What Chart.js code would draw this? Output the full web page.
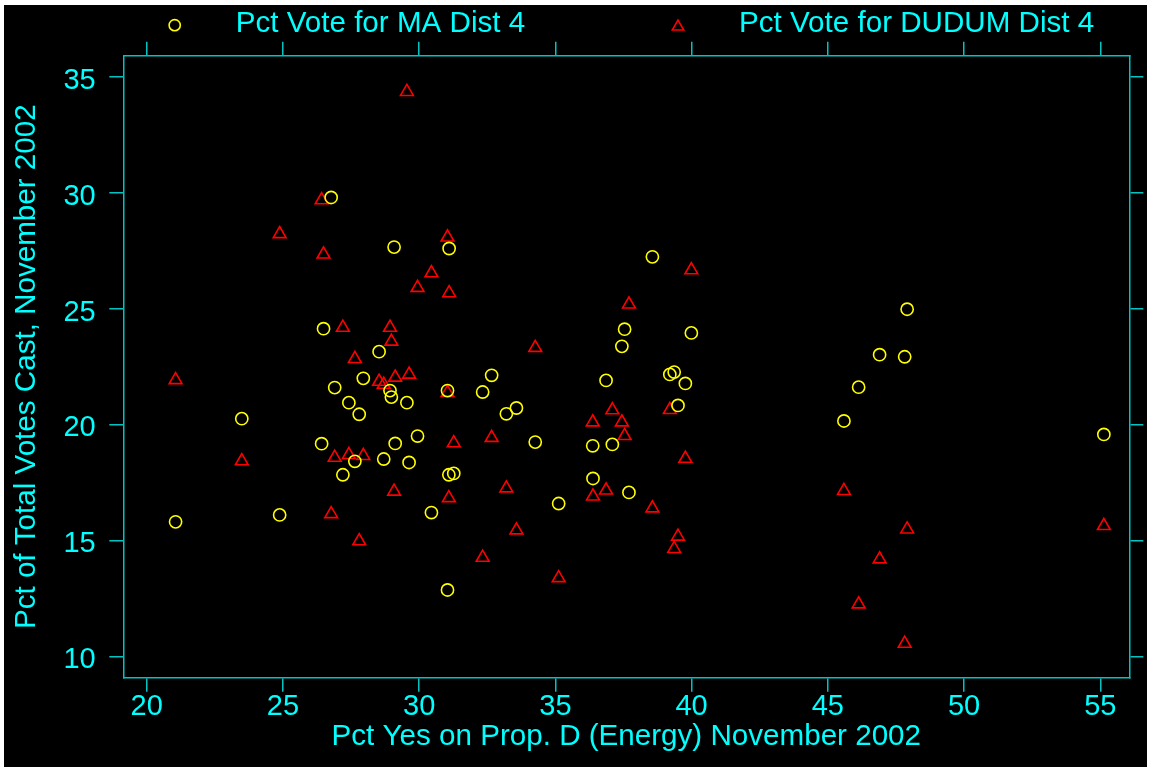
<!DOCTYPE html>
<html>
<head>
<meta charset="utf-8">
<title>Prop. D vote vs. District 4 candidate share, November 2002</title>
<script src="https://cdn.jsdelivr.net/npm/chart.js@4/dist/chart.umd.min.js"></script>
<style>
  html, body { margin: 0; padding: 0; background: #ffffff; }
  #frame { position: absolute; left: 4px; top: 5px; width: 1143px; height: 762px; background: #000000; }
  canvas { display: block; }
</style>
</head>
<body>
<div id="frame"><canvas id="chart" width="1143" height="762"></canvas></div>
<script>
// Precinct results, District 4: Prop. D yes share and each candidate's share of votes cast
const propDYes = [
  21.06, 23.49, 24.88, 26.42, 26.49, 26.77, 26.90, 27.20, 27.42, 27.64,
  27.80, 27.95, 28.53, 28.70, 28.93, 28.98, 29.08, 29.12, 29.55, 29.63,
  29.94, 30.45, 31.04, 31.04, 31.09, 31.10, 31.27, 32.33, 32.66, 33.20,
  33.57, 34.26, 35.12, 36.37, 36.38, 36.86, 37.09, 37.44, 37.54, 37.70,
  38.56, 39.20, 39.36, 39.50, 39.77, 39.99, 45.59, 46.13, 46.90, 47.82,
  47.91, 55.13
];
const maVote = [
  15.80, 20.25, 16.10, 19.17, 24.13, 29.79, 21.59, 17.83, 20.94, 18.41,
  20.44, 21.99, 23.14, 18.51, 21.46, 21.18, 27.65, 19.18, 20.94, 18.36,
  19.50, 16.20, 21.46, 12.86, 17.83, 27.59, 17.89, 21.40, 22.12, 20.46,
  20.71, 19.24, 16.59, 19.08, 17.67, 21.90, 19.14, 23.37, 24.11, 17.07,
  27.23, 22.16, 22.26, 20.82, 21.77, 23.95, 20.15, 21.61, 23.01, 22.92,
  24.97, 19.57
];
const dudumVote = [
  21.92, 18.42, 28.22, 29.68, 27.34, 16.14, 18.57, 24.18, 18.69, 22.83,
  14.97, 18.65, 21.85, 21.72, 24.18, 23.58, 17.11, 22.03, 34.35, 22.16,
  25.90, 26.53, 28.07, 21.37, 16.83, 25.67, 19.20, 14.26, 19.43, 17.25,
  15.44, 23.31, 13.38, 20.10, 16.90, 17.16, 20.62, 20.10, 19.51, 25.18,
  16.39, 20.63, 14.64, 15.17, 18.53, 26.66, 17.14, 12.25, 14.19, 10.55,
  15.48, 15.63
];
const xTicks = [20, 25, 30, 35, 40, 45, 50, 55];
const yTicks = [10, 15, 20, 25, 30, 35];
const seriesLabels = ['Pct Vote for MA Dist 4', 'Pct Vote for DUDUM Dist 4'];
const xTitle = 'Pct Yes on Prop. D (Energy) November 2002';
const yTitle = 'Pct of Total Votes Cast, November 2002';

const AXIS = '#00c4c4';
const TEXT = '#00ffff';
const FONT = "'Liberation Sans', Arial, Helvetica, sans-serif";
const FONT_SIZE = 29;
const TITLE_SIZE = 29.6;

const X_RANGE = { min: 19.141, max: 56.064 };
const Y_RANGE = { min: 9.077, max: 35.906 };

function frameAxis(extra) {
  return Object.assign({
    type: 'linear',
    grid: { drawOnChartArea: false, color: AXIS, tickLength: 14, lineWidth: 1.5 },
    border: { display: true, color: AXIS, width: 1.5 }
  }, extra);
}

// Legend drawn as a single row above the plot frame
const headerLegend = {
  id: 'headerLegend',
  afterDraw(chart) {
    const { ctx, chartArea } = chart;
    const rowY = chartArea.top - 30.5;
    chart.data.datasets.forEach((ds, i) => {
      const mx = chartArea.left + 51.4 + i * 503.3;
      ctx.save();
      ctx.strokeStyle = ds.borderColor;
      ctx.fillStyle = 'rgba(0,0,0,0)';
      ctx.lineWidth = ds.pointBorderWidth;
      Chart.helpers.drawPoint(ctx, {
        pointStyle: ds.pointStyle,
        radius: ds.pointStyle === 'triangle' ? 6.6 : 5.6,
        borderWidth: ds.pointBorderWidth,
        rotation: 0
      }, mx, ds.pointStyle === 'triangle' ? rowY + 1.5 : rowY);
      ctx.fillStyle = TEXT;
      ctx.font = TITLE_SIZE + 'px ' + FONT;
      ctx.textAlign = 'left';
      ctx.textBaseline = 'middle';
      ctx.fillText(ds.label, mx + 61, rowY - 1);
      ctx.restore();
    });
  }
};

new Chart(document.getElementById('chart'), {
  type: 'scatter',
  data: {
    datasets: [
      {
        label: seriesLabels[0],
        data: propDYes.map((x, i) => ({ x: x, y: maVote[i] })),
        pointStyle: 'circle',
        pointRadius: 6.1,
        pointHoverRadius: 6.1,
        pointBorderWidth: 1.6,
        borderColor: '#ffff00',
        backgroundColor: 'rgba(0,0,0,0)',
        showLine: false
      },
      {
        label: seriesLabels[1],
        data: propDYes.map((x, i) => ({ x: x, y: dudumVote[i] })),
        pointStyle: 'triangle',
        pointRadius: 7.4,
        pointHoverRadius: 7.4,
        pointBorderWidth: 1.6,
        borderColor: '#ff0000',
        backgroundColor: 'rgba(0,0,0,0)',
        showLine: false
      }
    ]
  },
  options: {
    responsive: false,
    animation: false,
    devicePixelRatio: 1,
    layout: { padding: 0, autoPadding: false },
    plugins: { legend: { display: false }, tooltip: { enabled: false } },
    events: [],
    scales: {
      x: frameAxis({
        position: 'bottom',
        min: X_RANGE.min, max: X_RANGE.max,
        afterBuildTicks: s => { s.ticks = xTicks.map(v => ({ value: v })); },
        afterFit: s => { s.height = 89.3; },
        ticks: {
          color: TEXT, padding: 1, maxRotation: 0, autoSkip: false,
          font: { family: FONT, size: FONT_SIZE, lineHeight: 1 }
        },
        title: {
          display: true, text: xTitle, color: TEXT,
          font: { family: FONT, size: TITLE_SIZE },
          padding: { top: 0, bottom: 12.5 }
        }
      }),
      xTop: frameAxis({
        position: 'top',
        min: X_RANGE.min, max: X_RANGE.max,
        afterBuildTicks: s => { s.ticks = xTicks.map(v => ({ value: v })); },
        afterFit: s => { s.height = 50.7; },
        ticks: { display: false }
      }),
      y: frameAxis({
        position: 'left',
        min: Y_RANGE.min, max: Y_RANGE.max,
        afterBuildTicks: s => { s.ticks = yTicks.map(v => ({ value: v })); },
        afterFit: s => { s.width = 119.3; },
        ticks: {
          color: TEXT, padding: 13.6, labelOffset: 4,
          font: { family: FONT, size: FONT_SIZE, lineHeight: 1 }
        },
        title: {
          display: true, text: yTitle, color: TEXT,
          font: { family: FONT, size: TITLE_SIZE },
          padding: { top: 5, bottom: 0 }
        }
      }),
      yRight: frameAxis({
        position: 'right',
        min: Y_RANGE.min, max: Y_RANGE.max,
        afterBuildTicks: s => { s.ticks = yTicks.map(v => ({ value: v })); },
        afterFit: s => { s.width = 17.7; },
        ticks: { display: false }
      })
    }
  },
  plugins: [headerLegend]
});
</script>
</body>
</html>
